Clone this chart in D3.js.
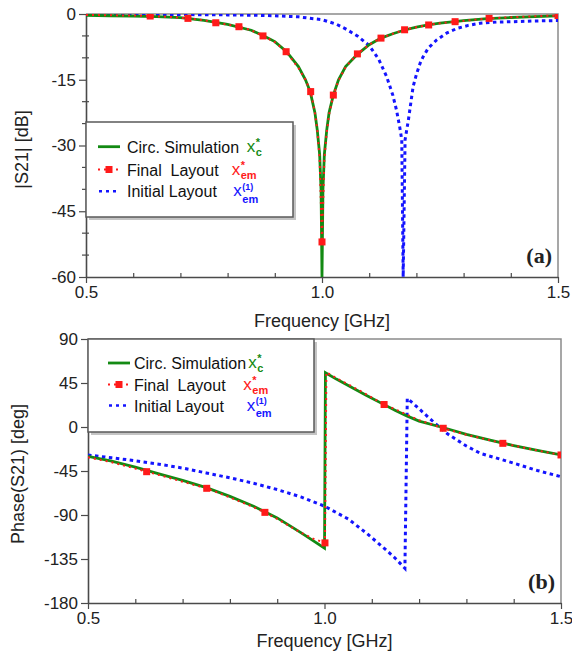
<!DOCTYPE html>
<html>
<head>
<meta charset="utf-8">
<script src="https://cdn.jsdelivr.net/npm/d3@7"></script>
<style>
body { margin: 0; background: #fff; }
svg { display: block; }
text { font-family: "Liberation Sans", Arial, sans-serif; white-space: pre; }
</style>
</head>
<body>
<div id="chart"></div>
<script>
// |S21| in dB, [frequency GHz, value]
const circS21 = [[0.5,-0.3],[0.55,-0.4],[0.6,-0.5],[0.65,-0.62],[0.7,-0.85],[0.75,-1.45],[0.8,-2.35],[0.85,-3.7],[0.875,-4.9],[0.9,-6.3],[0.925,-8.6],[0.95,-12.0],[0.965,-15.0],[0.975,-17.7],[0.985,-22.5],[0.99,-26.5],[0.995,-32],[0.998,-40],[1.0,-60],[1.002,-40],[1.005,-32],[1.01,-26.5],[1.015,-22.5],[1.024,-18.5],[1.035,-15.0],[1.05,-12.0],[1.075,-9.2],[1.1,-7.0],[1.125,-5.5],[1.15,-4.5],[1.175,-3.65],[1.2,-3.0],[1.225,-2.5],[1.25,-2.1],[1.3,-1.5],[1.35,-1.05],[1.4,-0.8],[1.45,-0.6],[1.5,-0.45]];
const finalS21 = [[0.5,-0.2],[0.55,-0.3],[0.6,-0.35],[0.636,-0.46],[0.68,-0.7],[0.716,-1.0],[0.75,-1.4],[0.775,-2.0],[0.8,-2.4],[0.824,-2.9],[0.85,-3.7],[0.875,-5.0],[0.9,-6.4],[0.924,-8.6],[0.95,-12.3],[0.965,-15.0],[0.976,-17.7],[0.985,-22.5],[0.99,-26.5],[0.995,-33],[1.0,-52],[1.005,-33],[1.01,-27],[1.015,-23],[1.024,-18.5],[1.035,-15.2],[1.05,-12.1],[1.075,-9.1],[1.1,-7.0],[1.125,-5.5],[1.15,-4.5],[1.175,-3.6],[1.2,-3.0],[1.226,-2.5],[1.25,-2.1],[1.282,-1.75],[1.32,-1.35],[1.354,-1.0],[1.4,-0.75],[1.45,-0.5],[1.5,-0.35]];
const finalS21Markers = [[0.636,-0.46],[0.716,-1.0],[0.775,-2.0],[0.824,-2.9],[0.875,-5.0],[0.924,-8.6],[0.976,-17.7],[1.0,-52],[1.024,-18.5],[1.075,-9.1],[1.125,-5.5],[1.175,-3.6],[1.226,-2.5],[1.282,-1.75],[1.354,-1.0],[1.5,-0.35]];
const initS21 = [[0.5,-0.05],[0.6,-0.08],[0.7,-0.12],[0.8,-0.2],[0.85,-0.28],[0.9,-0.4],[0.95,-0.65],[1.0,-1.3],[1.03,-2.3],[1.05,-3.4],[1.075,-5.0],[1.1,-7.2],[1.12,-10.3],[1.137,-14.3],[1.15,-18.5],[1.158,-22],[1.165,-26],[1.169,-28.7],[1.172,-60],[1.176,-28.7],[1.183,-24.2],[1.193,-16.6],[1.2,-13.8],[1.208,-11.2],[1.214,-9.8],[1.225,-7.8],[1.243,-5.9],[1.265,-4.3],[1.286,-3.3],[1.31,-2.6],[1.335,-2.1],[1.37,-1.85],[1.405,-1.75],[1.45,-1.6],[1.5,-1.5]];

// Phase(S21) in degrees
const circPhase = [[0.5,-30],[0.55,-35],[0.6,-41],[0.65,-48],[0.7,-54.5],[0.75,-62],[0.8,-71],[0.85,-81],[0.9,-93],[0.95,-108],[0.975,-116],[1.0,-124],[1.002,55.5],[1.025,49],[1.054,41.5],[1.09,32],[1.124,23.4],[1.15,17],[1.174,11.4],[1.2,6],[1.25,-0.5],[1.3,-7.5],[1.35,-13.5],[1.4,-19],[1.45,-24],[1.5,-28.6]];
const finalPhase = [[0.5,-31],[0.55,-36],[0.6,-42.5],[0.624,-45.7],[0.65,-49],[0.7,-56],[0.751,-62.7],[0.8,-72],[0.85,-82],[0.874,-87.3],[0.9,-94],[0.95,-108],[0.975,-114],[1.001,-118.5],[1.004,56],[1.025,50],[1.054,42.5],[1.09,33],[1.126,23],[1.15,18],[1.2,7],[1.251,-1.3],[1.3,-8],[1.35,-13.5],[1.377,-16.7],[1.4,-19],[1.45,-24],[1.5,-28.6]];
const finalPhaseMarkers = [[0.624,-45.7],[0.751,-62.7],[0.874,-87.3],[1.001,-118.5],[1.126,23],[1.251,-1.3],[1.377,-16.7],[1.5,-28.6]];
const initPhase = [[0.5,-28.6],[0.55,-31.5],[0.6,-34.5],[0.65,-38],[0.7,-42],[0.75,-47],[0.8,-52],[0.85,-57.5],[0.9,-64],[0.95,-71.5],[1.0,-81],[1.05,-94],[1.089,-108.7],[1.131,-126],[1.15,-134.5],[1.17,-144.5],[1.175,29.3],[1.195,20.8],[1.23,5.4],[1.26,-7],[1.3,-19.5],[1.33,-27],[1.4,-37],[1.45,-44.5],[1.5,-50.8]];

const freqTicks = [0.5, 1.0, 1.5];
const freqMinorTicks = [0.6, 0.7, 0.8, 0.9, 1.1, 1.2, 1.3, 1.4];
const s21Ticks = [0, -15, -30, -45, -60];
const s21MinorTicks = [-5, -10, -20, -25, -35, -40, -50, -55];
const phaseTicks = [90, 45, 0, -45, -90, -135, -180];
const legendLabels = ["Circ. Simulation", "Final  Layout", "Initial Layout"];

const green = "#138a13", red = "#ff1a1a", blue = "#1414ff", axisColor = "#4a4a4a";

const svg = d3.select("#chart")
    .append("svg")
    .attr("width", 572)
    .attr("height", 655);

function drawPanel(p) {
    const x = d3.scaleLinear().domain([0.5, 1.5]).range([p.left, p.right]);
    const y = d3.scaleLinear().domain(p.yDomain).range([p.bottom, p.top]);
    const g = svg.append("g");

    g.append("clipPath").attr("id", p.id + "-clip")
        .append("rect")
        .attr("x", p.left).attr("y", p.top)
        .attr("width", p.right - p.left).attr("height", p.bottom - p.top);

    // top and right frame
    g.append("path")
        .attr("d", `M${p.left},${p.top}H${p.right}V${p.bottom}`)
        .attr("fill", "none")
        .attr("stroke", "#8a8a8a")
        .attr("stroke-width", 1.5);

    const xAxis = g.append("g")
        .attr("transform", `translate(0,${p.bottom})`)
        .call(d3.axisBottom(x).tickValues(freqTicks).tickFormat(d3.format(".1f")).tickSize(6).tickSizeOuter(0));
    g.append("g")
        .attr("transform", `translate(0,${p.bottom})`)
        .call(d3.axisBottom(x).tickValues(freqMinorTicks).tickFormat("").tickSize(-4))
        .call(a => a.select(".domain").remove());

    const yAxis = g.append("g")
        .attr("transform", `translate(${p.left},0)`)
        .call(d3.axisLeft(y).tickValues(p.yTicks).tickFormat(d => String(d)).tickSize(7).tickSizeOuter(0));
    g.selectAll(".minor-y")
        .data(p.yMinor)
        .join("line")
        .attr("x1", p.left - 4).attr("x2", p.left + 3)
        .attr("y1", d => y(d)).attr("y2", d => y(d))
        .attr("stroke", axisColor)
        .attr("stroke-width", 1.2);

    g.selectAll(".domain").attr("stroke", axisColor).attr("stroke-width", 1.6);
    g.selectAll(".tick line").attr("stroke", axisColor).attr("stroke-width", 1.2);
    [xAxis, yAxis].forEach(a => a.attr("font-family", null).attr("font-size", null)
        .selectAll("text").style("font-size", "17px").attr("fill", "#222"));

    const line = d3.line().x(d => x(d[0])).y(d => y(d[1]));
    const plot = g.append("g").attr("clip-path", `url(#${p.id}-clip)`);

    plot.append("path").datum(p.init)
        .attr("fill", "none").attr("stroke", blue).attr("stroke-width", 3)
        .attr("stroke-dasharray", "3.5 3.5").attr("d", line);
    plot.append("path").datum(p.circ)
        .attr("fill", "none").attr("stroke", green).attr("stroke-width", 2.8)
        .attr("d", line);
    plot.append("path").datum(p.final)
        .attr("fill", "none").attr("stroke", red).attr("stroke-width", 2)
        .attr("stroke-dasharray", "2 4").attr("d", line);
    plot.selectAll(".marker")
        .data(p.markers)
        .join("rect")
        .attr("x", d => x(d[0]) - 3.5).attr("y", d => y(d[1]) - 3.5)
        .attr("width", 7).attr("height", 7)
        .attr("fill", red);

    // legend
    const L = p.legend;
    g.append("rect")
        .attr("x", L.x + 3).attr("y", L.y + 3).attr("width", L.w).attr("height", L.h)
        .attr("fill", "#c4c4c4");
    g.append("rect")
        .attr("x", L.x).attr("y", L.y).attr("width", L.w).attr("height", L.h)
        .attr("fill", "#fff").attr("stroke", "#5a5a5a").attr("stroke-width", 1.5);

    const [r1, r2, r3] = L.rows;
    g.append("line").attr("x1", L.sx[0]).attr("x2", L.sx[1]).attr("y1", r1).attr("y2", r1)
        .attr("stroke", green).attr("stroke-width", 2.8);
    g.append("line").attr("x1", L.sx[0]).attr("x2", L.sx[1]).attr("y1", r2).attr("y2", r2)
        .attr("stroke", red).attr("stroke-width", 2).attr("stroke-dasharray", "2 4");
    g.append("rect").attr("x", (L.sx[0] + L.sx[1]) / 2 - 3.5).attr("y", r2 - 3.5)
        .attr("width", 7).attr("height", 7).attr("fill", red);
    g.append("line").attr("x1", L.sx[0] + 1).attr("x2", L.sx[1]).attr("y1", r3).attr("y2", r3)
        .attr("stroke", blue).attr("stroke-width", 2.5).attr("stroke-dasharray", "3 4");

    legendLabels.forEach((label, i) => {
        g.append("text")
            .attr("x", L.tx).attr("y", L.rows[i] + 6)
            .style("font-size", "16px").attr("fill", "#111")
            .text(label);
    });

    // x symbols with sub/superscripts, one text element each
    const sym = [
        { color: green, sup: "*", sub: "c" },
        { color: red, sup: "*", sub: "em" },
        { color: blue, sup: "(1)", sub: "em" }
    ];
    sym.forEach((s, i) => {
        const sx = L.xs[i], cy = L.rows[i];
        const star = s.sup === "*";
        const t = g.append("text").attr("x", sx).attr("y", cy + 5)
            .style("font-size", "17px").attr("fill", s.color).text("x");
        t.append("tspan").attr("x", sx + 9).attr("dy", star ? -6 : -6.5)
            .style("font-size", star ? "11px" : "9px").style("font-weight", "bold")
            .text(s.sup);
        t.append("tspan").attr("x", sx + 9).attr("dy", star ? 10 : 13)
            .style("font-size", "11px").style("font-weight", "bold")
            .text(s.sub);
    });

    // panel tag and axis titles
    g.append("text")
        .attr("x", p.right - 6).attr("y", p.tagY)
        .attr("text-anchor", "end")
        .style("font-family", "'Liberation Serif', 'Times New Roman', serif")
        .style("font-size", "22px").style("font-weight", "bold")
        .attr("fill", "#222")
        .text(p.tag);
    g.append("text")
        .attr("x", (p.left + p.right) / 2).attr("y", p.xTitleY)
        .attr("text-anchor", "middle")
        .style("font-size", "18px").attr("fill", "#222")
        .text("Frequency [GHz]");
    g.append("text")
        .attr("transform", `translate(${p.yTitleX},${(p.top + p.bottom) / 2 + p.yTitleShift}) rotate(-90)`)
        .attr("text-anchor", "middle")
        .style("font-size", "18px").attr("fill", "#222")
        .text(p.yTitle);
}

drawPanel({
    id: "s21", left: 86, right: 558, top: 14, bottom: 277,
    yDomain: [-60, 0], yTicks: s21Ticks, yMinor: s21MinorTicks,
    circ: circS21, final: finalS21, markers: finalS21Markers, init: initS21,
    tag: "(a)", tagY: 263, xTitleY: 327, yTitle: "|S21| [dB]", yTitleX: 28, yTitleShift: 4,
    legend: { x: 86, y: 122, w: 207, h: 95, rows: [146.7, 169.5, 191.3], sx: [98, 120], tx: 127, xs: [246.7, 231.7, 233.3] }
});

drawPanel({
    id: "phase", left: 88, right: 561, top: 339, bottom: 603,
    yDomain: [-180, 90], yTicks: phaseTicks, yMinor: [],
    circ: circPhase, final: finalPhase, markers: finalPhaseMarkers, init: initPhase,
    tag: "(b)", tagY: 589, xTitleY: 647, yTitle: "Phase(S21) [deg]", yTitleX: 24, yTitleShift: 3,
    legend: { x: 88, y: 339, w: 226, h: 93, rows: [363, 384.5, 405.5], sx: [108, 130], tx: 134, xs: [248.3, 243.3, 246.7] }
});
</script>
</body>
</html>
